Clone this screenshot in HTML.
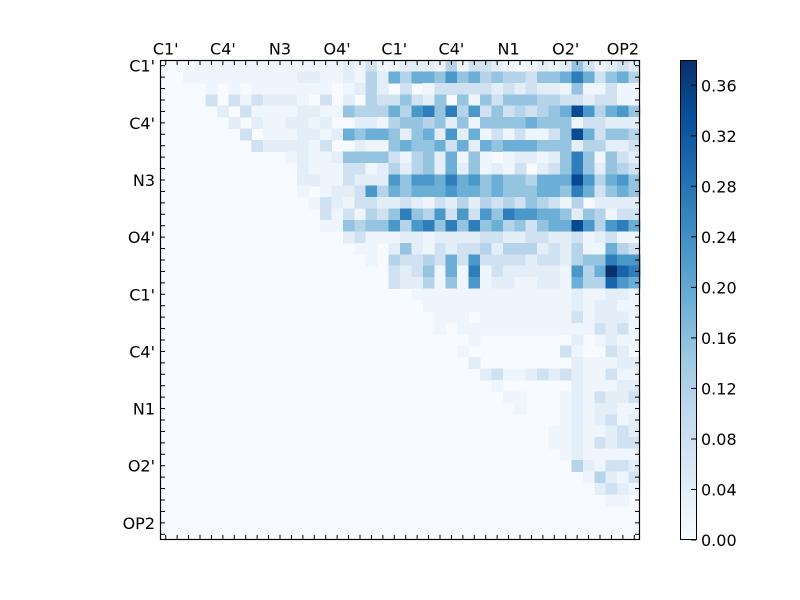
<!DOCTYPE html>
<html>
<head>
<meta charset="utf-8">
<style>
html,body{margin:0;padding:0;background:#fff;}
svg{display:block}
</style>
</head>
<body>
<svg id="s" width="800" height="600" xmlns="http://www.w3.org/2000/svg" font-family="'DejaVu Sans','Liberation Sans',sans-serif" font-size="16">
<defs>
<linearGradient id="cb" x1="0" y1="1" x2="0" y2="0">
<stop offset="0" stop-color="#f7fbff"/>
<stop offset="0.125" stop-color="#deebf7"/>
<stop offset="0.25" stop-color="#c6dbef"/>
<stop offset="0.375" stop-color="#9ecae1"/>
<stop offset="0.5" stop-color="#6baed6"/>
<stop offset="0.625" stop-color="#4292c6"/>
<stop offset="0.75" stop-color="#2171b5"/>
<stop offset="0.875" stop-color="#08519c"/>
<stop offset="1" stop-color="#08306b"/>
</linearGradient>
</defs>
<rect width="800" height="600" fill="#ffffff"/>
<rect x="160" y="60" width="480" height="480" fill="#f7fbff"/>
<g id="cells" shape-rendering="crispEdges"></g>
<g id="ticks" stroke="#000" stroke-width="1"></g>
<rect x="160.5" y="60.5" width="479" height="479" fill="none" stroke="#000" stroke-width="1.2"/>

<g text-anchor="middle" fill="#000">
<text x="165.7" y="54.5">C1'</text>
<text x="222.9" y="54.5">C4'</text>
<text x="280" y="54.5">N3</text>
<text x="337.1" y="54.5">O4'</text>
<text x="394.3" y="54.5">C1'</text>
<text x="451.4" y="54.5">C4'</text>
<text x="508.6" y="54.5">N1</text>
<text x="565.7" y="54.5">O2'</text>
<text x="622.9" y="54.5">OP2</text>
</g>
<g text-anchor="end" fill="#000">
<text x="155" y="71.7">C1'</text>
<text x="155" y="128.9">C4'</text>
<text x="155" y="186">N3</text>
<text x="155" y="243.1">O4'</text>
<text x="155" y="300.3">C1'</text>
<text x="155" y="357.4">C4'</text>
<text x="155" y="414.6">N1</text>
<text x="155" y="471.7">O2'</text>
<text x="155" y="528.9">OP2</text>
</g>

<rect x="680" y="60" width="16.5" height="480" fill="url(#cb)"/>
<rect x="680.5" y="60.5" width="16" height="479" fill="none" stroke="#000" stroke-width="1"/>
<g stroke="#000" stroke-width="1">
<line x1="696" x2="691" y1="540" y2="540"/>
<line x1="696" x2="691" y1="489.5" y2="489.5"/>
<line x1="696" x2="691" y1="439" y2="439"/>
<line x1="696" x2="691" y1="388.4" y2="388.4"/>
<line x1="696" x2="691" y1="337.9" y2="337.9"/>
<line x1="696" x2="691" y1="287.4" y2="287.4"/>
<line x1="696" x2="691" y1="236.8" y2="236.8"/>
<line x1="696" x2="691" y1="186.3" y2="186.3"/>
<line x1="696" x2="691" y1="135.8" y2="135.8"/>
<line x1="696" x2="691" y1="85.3" y2="85.3"/>
</g>
<g fill="#000">
<text x="701" y="546">0.00</text>
<text x="701" y="495.5">0.04</text>
<text x="701" y="445">0.08</text>
<text x="701" y="394.4">0.12</text>
<text x="701" y="343.9">0.16</text>
<text x="701" y="293.4">0.20</text>
<text x="701" y="242.8">0.24</text>
<text x="701" y="192.3">0.28</text>
<text x="701" y="141.8">0.32</text>
<text x="701" y="91.3">0.36</text>
</g>
</svg>
<script>
(function(){
var Z="00000000000000";
var rows=[
"000..........."+"..1.2..111.3.2"+"21.0.1.142.121",
"00..........11"+"..1.3153554645"+"34332445752453",
"0000.0.0......"+".0.131020.2222"+"2121211.4..2..",
"0000202.2111.0"+"2010322421404."+"424443322122..",
"00000102....11"+"..433353674736"+"24232345963564",
"000000101..11."+"10011.3443414."+"44445444.22111",
"000000020...11"+".1545541451615"+".2.2..24952443",
"0000000021111."+"2001..45445251"+"54555444133112",
"00000000000.1."+".144442.3415.4"+".0.11.1474.421",
"0000000000001."+"..22.131341514"+".1.20124741432",
"00000000000011"+"..211164665756"+"45443555963564",
"000000000000.0"+".1126354555655"+"45444554752454",
"0000000000000."+"21.221121.2131"+"3232432.301111",
"00000000000000"+"2.2.3247436262"+"64766554143.22",
Z+"..434463674747"+"45342455963675",
Z+"0012...11.1111"+"221122112.12..",
Z+"000..0141.2122"+"313331213..532",
Z+"0000.032232526"+"22221221344766",
Z+"0000002124.5.7"+".211111.635A87",
Z+"0000002113.4.6"+".11..11.533865",
Z+"00000000......"+"........1..11.",
Z+"000000000....."+"........1.11..",
Z+"0000000000...0"+"........2.111.",
Z+"0000000000.0.."+"..........212.",
Z+"0000000000000."+"0000000010.1..",
Z+"000000000000.0"+"00000002.00210",
Z+"00000000000001"+"000000001...11",
Z+Z+"12..12121..2..",
Z+Z+"0.0000001...11",
Z+Z+"00..000.1.2112",
Z+Z+"000.000.1.11..",
Z+Z+"0000000.1.12.1",
Z+Z+"000000..1..121",
Z+Z+"000000..1.2122",
Z+Z+"0000000.1.....",
Z+Z+"0000000031.221",
Z+Z+"000000000.31.2",
Z+Z+"0000000000121.",
Z+Z+"00000000000..0",
Z+Z+Z,Z+Z+Z,Z+Z+Z
];
var st=[[247,251,255],[222,235,247],[198,219,239],[158,202,225],[107,174,214],[66,146,198],[33,113,181],[8,81,156],[8,48,107]];
function cmap(f){
  if(f<0)f=0;if(f>1)f=1;
  var t=f*8,i=Math.min(7,Math.floor(t)),u=t-i;
  var a=st[i],b=st[i+1];
  return "rgb("+Math.round(a[0]+(b[0]-a[0])*u)+","+Math.round(a[1]+(b[1]-a[1])*u)+","+Math.round(a[2]+(b[2]-a[2])*u)+")";
}
function val(ch){
  if(ch==="."){return 0.045;}
  if(ch==="A"){return 1.0;}
  var d=parseInt(ch,10);
  if(isNaN(d))return 0;
  return d/10;
}
var N=42,cs=480/N,ns="http://www.w3.org/2000/svg";
var g=document.getElementById("cells");
var html="";
for(var r=0;r<N;r++){
  var row=rows[r]||"";
  for(var c=0;c<N;c++){
    var ch=row.charAt(c)||"0";
    var v=val(ch);
    if(v<=0)continue;
    var x=160+c*cs,y=60+r*cs;
    html+='<rect x="'+x.toFixed(2)+'" y="'+y.toFixed(2)+'" width="'+(cs+0.6).toFixed(2)+'" height="'+(cs+0.6).toFixed(2)+'" fill="'+cmap(v)+'"/>';
  }
}
g.innerHTML=html;
var t=document.getElementById("ticks"),th="";
for(var k=0;k<N;k++){
  var p=160+(k+0.5)*cs,q=60+(k+0.5)*cs;
  th+='<line x1="'+p.toFixed(2)+'" x2="'+p.toFixed(2)+'" y1="60" y2="65"/>';
  th+='<line x1="'+p.toFixed(2)+'" x2="'+p.toFixed(2)+'" y1="540" y2="535"/>';
  th+='<line y1="'+q.toFixed(2)+'" y2="'+q.toFixed(2)+'" x1="160" x2="165"/>';
  th+='<line y1="'+q.toFixed(2)+'" y2="'+q.toFixed(2)+'" x1="640" x2="635"/>';
}
t.innerHTML=th;
})();
</script>
</body>
</html>
